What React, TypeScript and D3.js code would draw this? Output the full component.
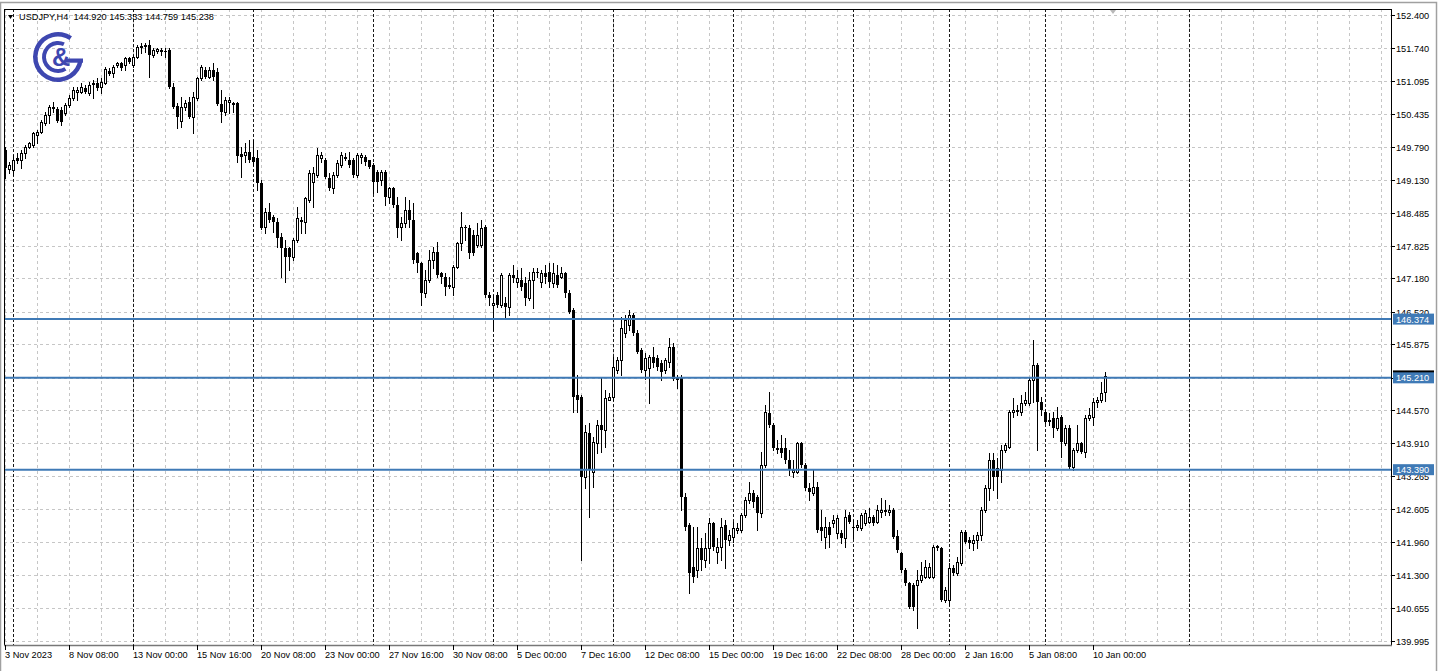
import React from 'react';
import * as d3 from 'd3';

// USDJPY H4 candles, 3 Nov 2023 16:00 .. 10 Jan 2024 12:00
const opens = [
  149.72,149.35,149.33,149.57,149.53,149.67,149.78,149.82,150.02,150.08,
  150.26,150.42,150.58,150.54,150.52,150.46,150.62,150.75,150.87,150.87,
  150.95,150.85,151.05,151.05,150.97,151.05,151.29,151.25,151.41,151.45,
  151.41,151.55,151.41,151.57,151.77,151.81,151.81,151.61,151.69,151.71,
  151.69,151.71,150.97,150.60,150.30,150.58,150.68,150.38,150.75,151.15,
  151.31,151.17,151.31,151.27,150.64,150.48,150.68,150.66,150.66,149.65,
  149.63,149.68,149.59,149.57,149.07,148.20,148.49,148.40,148.30,148.00,
  147.78,147.78,147.60,147.94,148.34,148.30,148.73,149.09,149.23,149.57,
  149.53,149.17,148.97,149.23,149.43,149.57,149.53,149.53,149.23,149.59,
  149.59,149.53,149.43,149.29,149.13,149.29,148.79,148.97,148.63,148.20,
  148.28,148.53,148.34,147.68,147.48,146.89,147.15,147.55,147.70,147.29,
  147.21,147.05,147.01,147.41,147.88,148.20,148.18,148.04,147.84,147.84,
  148.20,146.85,146.65,146.85,146.65,146.69,146.61,147.25,147.11,147.15,
  147.09,146.79,147.15,147.31,147.11,147.29,147.31,147.09,147.25,147.21,
  147.29,146.89,146.55,144.87,144.83,143.24,144.11,143.34,143.92,144.27,
  144.17,144.77,144.83,145.36,145.56,146.10,146.26,146.45,146.10,145.76,
  145.36,145.40,145.62,145.60,145.50,145.36,145.52,145.82,145.23,145.23,
  142.85,142.29,141.46,141.40,141.84,141.60,141.84,142.33,141.76,141.86,
  142.29,141.99,142.05,142.19,142.19,142.49,142.79,142.93,142.85,142.53,
  143.48,144.51,144.27,143.82,143.82,143.82,143.58,143.34,143.34,143.92,
  143.48,143.03,142.93,143.05,142.25,142.05,142.25,142.33,142.13,142.13,
  142.03,142.49,142.25,142.25,142.23,142.33,142.35,142.45,142.35,142.55,
  142.59,142.55,142.59,142.07,141.74,141.40,141.14,141.10,141.10,141.20,
  141.26,141.26,141.26,141.88,141.84,140.81,140.81,141.44,141.34,141.54,
  142.15,141.99,141.94,141.99,142.09,142.59,143.03,143.58,143.42,143.38,
  143.78,143.84,144.53,144.57,144.53,144.71,144.71,145.17,145.46,144.73,
  144.53,144.37,144.41,144.21,144.43,143.92,144.21,143.44,143.78,143.92,
  143.74,144.41,144.43,144.73,144.77,144.920,
];
const highs = [
  149.78,149.49,149.62,149.67,149.72,149.82,149.88,150.08,150.12,150.32,
  150.48,150.62,150.68,150.58,150.58,150.66,150.81,150.97,150.97,151.05,
  151.01,151.07,151.11,151.15,151.15,151.37,151.35,151.41,151.47,151.47,
  151.57,151.57,151.61,151.81,151.85,151.85,151.90,151.75,151.75,151.75,
  151.75,151.75,151.05,150.66,150.77,150.72,150.77,150.87,151.17,151.41,
  151.37,151.37,151.45,151.35,150.91,150.77,150.77,150.68,150.68,149.78,
  149.86,149.92,149.92,149.72,149.13,148.57,148.67,148.44,148.38,148.08,
  147.94,147.80,147.98,148.59,148.40,148.79,149.33,149.39,149.76,149.68,
  149.57,149.27,149.29,149.53,149.68,149.67,149.68,149.57,149.67,149.67,
  149.63,149.53,149.47,149.33,149.33,149.33,148.99,148.99,148.79,148.40,
  148.79,148.73,148.67,147.70,147.50,147.35,147.74,147.80,147.90,147.31,
  147.29,147.21,147.45,147.90,148.49,148.24,148.24,148.14,148.28,148.34,
  148.24,146.91,146.85,146.91,147.29,146.81,147.29,147.45,147.35,147.39,
  147.21,147.31,147.39,147.39,147.35,147.45,147.49,147.49,147.45,147.41,
  147.31,146.95,146.59,145.26,144.87,144.27,144.31,144.04,144.37,145.21,
  144.97,144.91,145.62,145.62,146.41,146.45,146.55,146.49,146.16,145.80,
  145.70,145.66,145.82,145.66,145.56,145.60,146.00,145.90,145.26,145.26,
  142.93,142.33,142.25,142.25,142.03,142.13,142.43,142.35,142.03,142.43,
  142.39,142.19,142.35,142.33,142.53,142.85,143.15,142.99,142.89,143.74,
  144.67,144.93,144.31,143.98,144.08,144.02,143.78,143.58,143.94,143.94,
  143.52,143.13,143.38,143.15,142.59,142.45,142.35,142.49,142.49,142.19,
  142.59,142.55,142.39,142.39,142.53,142.59,142.63,142.49,142.69,142.83,
  142.79,142.69,142.63,142.19,141.76,141.44,141.16,141.14,141.40,141.56,
  141.60,141.54,141.90,141.90,141.86,141.06,141.54,141.50,141.66,142.19,
  142.19,142.05,142.09,142.15,142.65,143.09,143.72,143.72,143.62,143.88,
  143.92,144.57,144.81,144.67,144.87,144.93,145.20,145.96,145.50,144.83,
  144.57,144.51,144.53,144.63,144.47,144.27,144.27,143.82,144.27,143.94,
  144.47,144.61,144.81,144.83,145.13,145.333,
];
const lows = [
  149.17,149.27,149.23,149.47,149.37,149.57,149.76,149.78,149.86,150.06,
  150.22,150.26,150.48,150.28,150.22,150.42,150.58,150.72,150.72,150.85,
  150.85,150.81,150.75,150.91,150.85,151.03,151.21,151.17,151.37,151.31,
  151.31,151.45,151.37,151.55,151.65,151.67,151.17,151.57,151.65,151.61,
  151.57,150.95,150.56,150.16,150.18,150.52,150.36,150.06,150.72,151.11,
  151.15,151.15,151.11,150.62,150.28,150.42,150.46,150.48,149.49,149.19,
  149.49,149.49,149.43,148.93,148.16,148.08,148.30,148.10,147.80,147.21,
  147.11,147.35,147.55,147.90,148.08,148.08,148.69,148.59,149.19,149.49,
  149.17,148.93,148.87,149.19,149.39,149.53,149.39,149.19,149.19,149.47,
  149.43,149.37,148.87,148.89,149.03,148.63,148.67,148.59,148.00,147.94,
  148.20,148.20,147.48,147.31,146.65,146.81,147.11,147.39,147.21,147.09,
  146.85,146.99,146.85,147.39,147.74,147.94,147.58,147.64,147.80,147.80,
  146.81,146.65,146.16,146.61,146.61,146.41,146.45,147.11,147.01,146.95,
  146.65,146.75,146.59,147.21,147.01,147.09,147.01,147.01,147.01,147.19,
  146.81,146.49,144.53,144.53,141.60,143.03,142.45,143.05,143.72,143.74,
  143.84,144.77,144.77,145.30,145.26,146.02,146.16,146.06,145.70,145.32,
  145.19,144.71,145.42,145.36,145.17,145.30,145.42,145.17,145.01,142.59,
  142.19,140.94,141.16,141.26,141.40,141.46,141.54,141.80,141.54,141.60,
  141.44,141.90,141.95,142.13,142.15,142.45,142.73,142.65,142.19,142.45,
  143.44,144.23,143.78,143.72,143.64,143.52,143.28,143.24,143.32,143.44,
  142.99,142.79,142.89,142.15,141.99,141.84,141.86,142.25,142.03,141.93,
  141.86,142.33,142.03,142.19,142.19,142.29,142.33,142.29,142.33,142.45,
  142.49,142.49,142.03,141.76,141.36,141.10,140.65,140.61,140.25,141.16,
  141.24,141.24,141.24,141.80,140.79,140.77,140.71,141.30,141.30,141.50,
  141.94,141.84,141.80,141.84,141.99,142.55,142.79,142.99,142.83,143.14,
  143.74,143.82,144.43,144.47,144.47,144.67,144.67,144.73,143.78,144.47,
  144.31,144.27,144.04,144.17,143.64,143.88,143.42,143.38,143.74,143.72,
  143.64,144.37,144.27,144.63,144.73,144.759,
];
const closes = [
  149.37,149.43,149.53,149.51,149.67,149.78,149.86,150.06,150.08,150.28,
  150.42,150.58,150.54,150.30,150.28,150.62,150.75,150.91,150.91,150.97,
  150.87,151.01,151.01,150.95,151.07,151.33,151.23,151.37,151.45,151.35,
  151.55,151.47,151.57,151.77,151.79,151.77,151.61,151.71,151.73,151.67,
  151.67,150.97,150.58,150.38,150.58,150.66,150.38,150.77,151.15,151.37,
  151.17,151.31,151.17,150.64,150.48,150.72,150.72,150.62,149.61,149.59,
  149.68,149.53,149.49,149.07,148.18,148.49,148.34,148.30,147.98,147.78,
  147.60,147.60,147.94,148.38,148.30,148.77,149.27,149.27,149.62,149.62,
  149.19,148.97,149.23,149.47,149.62,149.59,149.43,149.23,149.62,149.62,
  149.49,149.39,149.09,149.09,149.29,148.79,148.97,148.63,148.18,148.28,
  148.53,148.34,147.55,147.48,146.89,147.15,147.55,147.70,147.25,147.21,
  147.01,147.01,147.41,147.88,148.20,148.18,147.68,147.68,148.04,148.18,
  146.85,146.79,146.69,146.65,147.25,146.61,147.25,147.19,147.19,147.01,
  146.79,147.15,147.31,147.29,147.29,147.21,147.11,147.29,147.05,147.29,
  146.89,146.51,144.83,144.77,143.24,144.13,143.38,143.94,144.27,144.17,
  144.81,144.83,145.42,145.56,146.20,146.36,146.45,146.10,145.72,145.36,
  145.60,145.62,145.50,145.42,145.32,145.56,145.82,145.19,145.17,142.85,
  142.25,141.34,141.26,141.84,141.60,141.84,142.33,141.86,141.86,142.25,
  141.99,142.09,142.23,142.23,142.49,142.79,142.93,142.75,142.53,143.48,
  144.53,144.27,143.82,143.78,143.72,143.58,143.38,143.38,143.92,143.48,
  143.03,142.95,143.05,142.19,142.17,142.25,142.09,142.39,142.43,142.03,
  142.45,142.35,142.23,142.29,142.49,142.53,142.45,142.33,142.59,142.59,
  142.55,142.59,142.05,141.80,141.40,141.14,140.67,140.67,141.20,141.30,
  141.46,141.46,141.86,141.84,140.81,141.00,141.44,141.34,141.56,142.15,
  141.96,141.94,141.99,142.09,142.59,143.03,143.58,143.24,143.24,143.78,
  143.88,144.53,144.57,144.53,144.71,144.77,145.17,145.46,144.73,144.57,
  144.33,144.33,144.21,144.41,143.94,144.21,143.44,143.78,143.92,143.74,
  144.41,144.47,144.73,144.77,144.91,145.238,
];

// Price scale labels (right side)
const priceTicks = [
  152.400, 151.740, 151.095, 150.435, 149.790, 149.130, 148.485, 147.825, 147.180, 146.520,
  145.875, 145.210, 144.570, 143.910, 143.265, 142.605, 141.960, 141.300, 140.655, 139.995,
];

// Time scale labels (bar index -> text)
const timeBars = [0, 16, 32, 48, 64, 80, 96, 112, 128, 144, 160, 176, 192, 208, 224, 240, 256, 272];
const timeLabels = [
  '3 Nov 2023', '8 Nov 08:00', '13 Nov 00:00', '15 Nov 16:00', '20 Nov 08:00', '23 Nov 00:00',
  '27 Nov 16:00', '30 Nov 08:00', '5 Dec 00:00', '7 Dec 16:00', '12 Dec 08:00', '15 Dec 00:00',
  '19 Dec 16:00', '22 Dec 08:00', '28 Dec 00:00', '2 Jan 16:00', '5 Jan 08:00', '10 Jan 00:00',
];

// Weekly period separators (bar index of the first bar of each week)
const separatorBars = [2, 32, 62, 92, 122, 152, 182, 212, 236, 260, 296];

// Horizontal support / resistance levels
const levels = [146.374, 145.210, 143.390];

const symbol = 'USDJPY,H4';

const W = 1438;
const H = 671;
const FRAME = { left: 4, top: 9, right: 1391, bottom: 645 };
const FONT = '"Liberation Sans", Arial, sans-serif';
const LEVEL_COLOR = '#3f7ab6';
const LOGO_COLOR = '#3e47b0';

export default function App() {
  const n = closes.length;
  const barStep = 4;
  const x = d3.scaleLinear().domain([0, 1]).range([5, 5 + barStep]);
  const y = d3.scaleLinear().domain([139.995, 152.4]).range([641, 15]);
  const py = (v: number) => Math.round(y(v));

  const gridBars = d3.range(0, 350, 8).filter((b) => x(b) < FRAME.right);

  const lastO = opens[n - 1], lastH = highs[n - 1], lastL = lows[n - 1], lastC = closes[n - 1];
  const header = `${symbol}  ${lastO.toFixed(3)} ${lastH.toFixed(3)} ${lastL.toFixed(3)} ${lastC.toFixed(3)}`;

  const outerArc = d3.arc()({
    innerRadius: 20.5, outerRadius: 25, startAngle: (98 * Math.PI) / 180, endAngle: (394 * Math.PI) / 180,
  } as any) as string;
  const innerArc = d3.arc()({
    innerRadius: 12, outerRadius: 16, startAngle: (148 * Math.PI) / 180, endAngle: (385 * Math.PI) / 180,
  } as any) as string;

  return (
    <svg
      width={W}
      height={H}
      style={{ position: 'absolute', left: 0, top: 0, background: '#fff', display: 'block' }}
      fontFamily={FONT}
    >
      <defs>
        <clipPath id="plot">
          <rect x={FRAME.left + 1} y={FRAME.top + 1} width={FRAME.right - FRAME.left - 1} height={FRAME.bottom - FRAME.top - 1} />
        </clipPath>
      </defs>

      {/* window border */}
      <rect x={0.5} y={2.5} width={W - 2} height={H + 10} fill="none" stroke="#a0a0a0" strokeWidth={1.5} />

      <g clipPath="url(#plot)">
        {/* horizontal grid */}
        {priceTicks.map((v) => (
          <line key={'h' + v} x1={FRAME.left} x2={FRAME.right} y1={py(v) + 0.5} y2={py(v) + 0.5}
            stroke="#c6c6c6" strokeDasharray="3,3" />
        ))}
        {/* vertical grid */}
        {gridBars.map((b) => (
          <line key={'v' + b} x1={x(b) + 0.5} x2={x(b) + 0.5} y1={FRAME.top} y2={FRAME.bottom}
            stroke="#c6c6c6" strokeDasharray="3,3" />
        ))}
        {/* period separators */}
        {separatorBars.map((b) => (
          <line key={'s' + b} x1={x(b) + 0.5} x2={x(b) + 0.5} y1={FRAME.top} y2={FRAME.bottom}
            stroke="#1a1a1a" strokeDasharray="3,2" />
        ))}

        {/* logo */}
        <g fill={LOGO_COLOR} transform="translate(58,57)">
          <path d={outerArc} />
          <rect x={7} y={1.5} width={18} height={4.2} />
          <path d={innerArc} />
          <text x={3} y={9} fontSize={25} fontWeight="bold" textAnchor="middle" fontFamily={FONT}>&amp;</text>
        </g>

        {/* candles */}
        {closes.map((c, i) => {
          const o = opens[i];
          const cx = Math.round(x(i));
          const yo = py(o), yc = py(c), yh = py(highs[i]), yl = py(lows[i]);
          const top = Math.min(yo, yc), bot = Math.max(yo, yc);
          const bull = c > o;
          return (
            <g key={i}>
              <line x1={cx + 0.5} x2={cx + 0.5} y1={yh} y2={yl + 1} stroke="#000" />
              {bull && bot - top >= 2 ? (
                <rect x={cx - 0.5} y={top + 0.5} width={2} height={bot - top} fill="#fff" stroke="#000" />
              ) : (
                <rect x={cx - 1} y={top} width={3} height={Math.max(bot - top, 1) + (bull ? 1 : 0)} fill="#000" />
              )}
            </g>
          );
        })}

        {/* levels */}
        {levels.map((v) => (
          <line key={'l' + v} x1={FRAME.left} x2={FRAME.right} y1={y(v)} y2={y(v)} stroke={LEVEL_COLOR} strokeWidth={2} />
        ))}

        {/* chart shift marker */}
        <path d={`M${x(277) - 3},${FRAME.top + 1} L${x(277) + 3},${FRAME.top + 1} L${x(277)},${FRAME.top + 5} Z`} fill="#b8b8b8" />
      </g>

      {/* frame */}
      <rect x={FRAME.left + 0.5} y={FRAME.top + 0.5} width={FRAME.right - FRAME.left} height={FRAME.bottom - FRAME.top}
        fill="none" stroke="#000" />
      <line x1={FRAME.left} x2={FRAME.right + 1} y1={FRAME.bottom + 0.5} y2={FRAME.bottom + 0.5} stroke="#777" strokeWidth={1.5} />

      {/* header */}
      <path d="M8,15 L13,15 L10.5,19 Z" fill="#000" />
      <text x={19} y={20} fontSize={9.2} fill="#000" style={{ whiteSpace: 'pre' }}>{header}</text>

      {/* price axis */}
      {priceTicks.map((v) => (
        <g key={'p' + v}>
          <line x1={FRAME.right + 1} x2={FRAME.right + 4} y1={py(v) + 0.5} y2={py(v) + 0.5} stroke="#000" />
          <text x={FRAME.right + 5} y={py(v) + 4} fontSize={9.2} fill="#000">{v.toFixed(3)}</text>
        </g>
      ))}

      {/* current bid marker, partly covered by the level label */}
      <rect x={FRAME.right + 2} y={y(lastC) - 6} width={41} height={11} fill="#000" />

      {levels.map((v) => (
        <g key={'lb' + v}>
          <rect x={FRAME.right + 2} y={y(v) - 5.5} width={41} height={11} fill={LEVEL_COLOR} />
          <text x={FRAME.right + 5} y={y(v) + 3.5} fontSize={9.2} fill="#fff">{v.toFixed(3)}</text>
        </g>
      ))}

      {/* time axis */}
      {timeBars.map((b, k) => (
        <g key={'t' + b}>
          <line x1={Math.round(x(b)) + 0.5} x2={Math.round(x(b)) + 0.5} y1={FRAME.bottom} y2={FRAME.bottom + 5} stroke="#000" />
          <text x={Math.round(x(b))} y={658} fontSize={9.2} fill="#000">{timeLabels[k]}</text>
        </g>
      ))}
    </svg>
  );
}
